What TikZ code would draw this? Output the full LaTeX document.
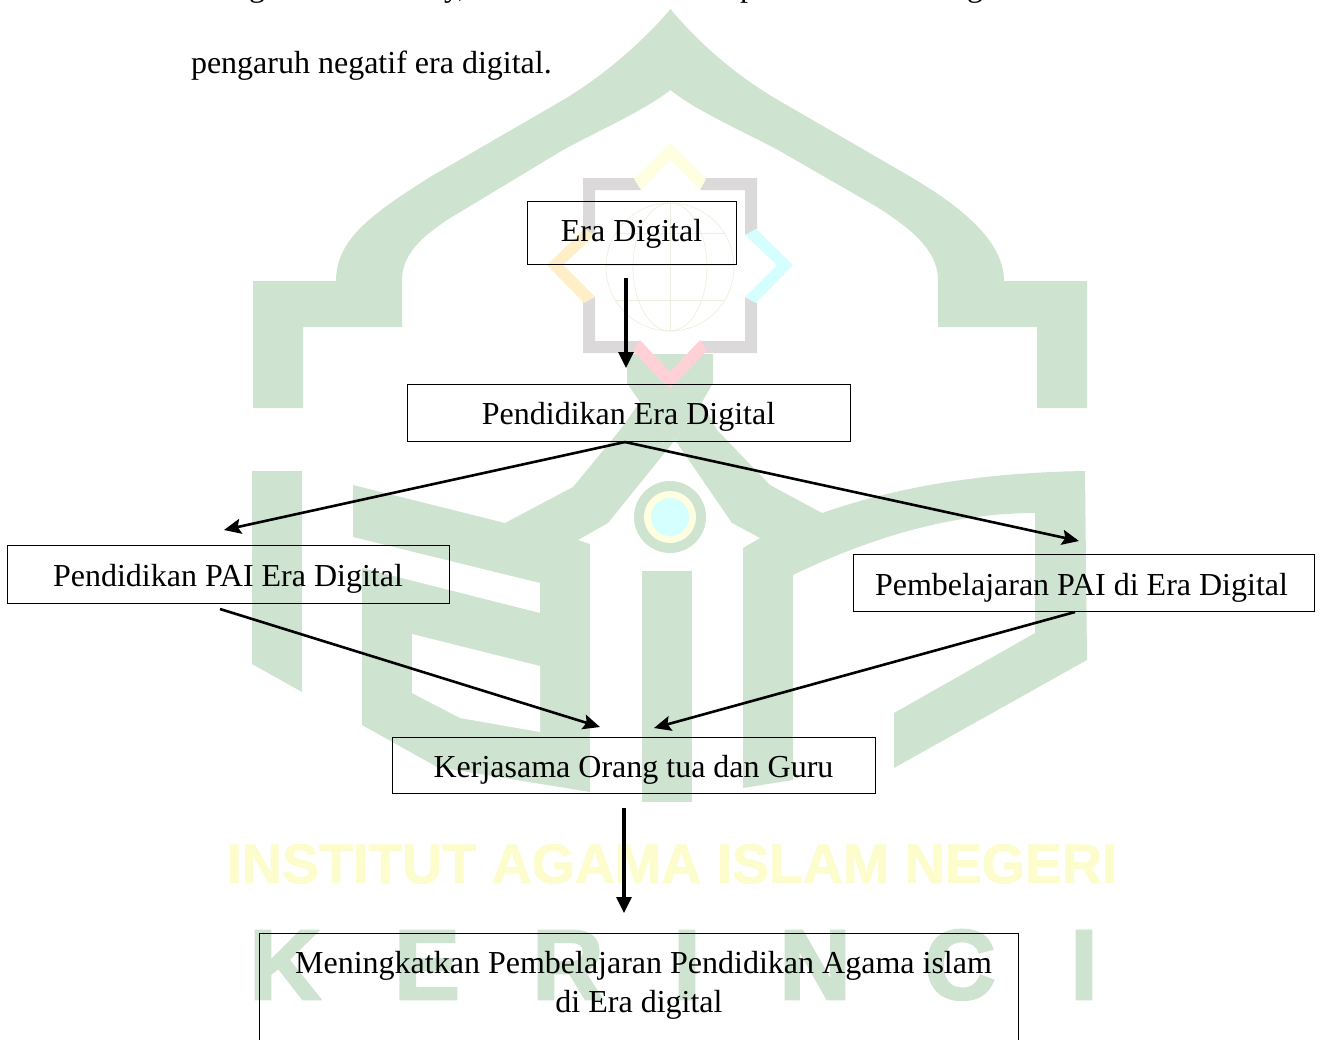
\documentclass[tikz,border=0pt]{standalone}
\usepackage{fontspec}
\setmainfont{Liberation Serif}
\newfontfamily\wmfont{Liberation Sans Bold}[FakeBold=2.5]
\newfontfamily\wmfonti{Liberation Sans Bold}[FakeBold=1.5]
\usetikzlibrary{arrows.meta}
\definecolor{wmgreen}{RGB}{207,228,208}
\definecolor{wmgrey}{RGB}{220,217,218}
\definecolor{wmyellow}{RGB}{254,254,224}
\definecolor{wmword}{RGB}{252,252,205}
\definecolor{wmorange}{RGB}{255,239,200}
\definecolor{wmcyan}{RGB}{213,255,255}
\definecolor{wmpink}{RGB}{255,208,213}
\definecolor{wmglobe}{RGB}{238,238,222}
\tikzset{
  txt/.style={inner sep=0pt,outer sep=0pt,font=\fontsize{32}{39}\selectfont,text=black},
  boxn/.style n args={3}{txt,draw=black,line width=1pt,minimum width=#1pt,minimum height=#2pt,text height=#3pt,text depth=7pt},
  varrow/.style={-{Triangle[length=16pt,width=15pt]},line width=3.2pt,black},
  darrow/.style={-{Stealth[length=17pt,width=15pt,inset=3pt]},line width=2.6pt,black},
  wmk/.style={inner sep=0pt,outer sep=0pt,anchor=base,font=\wmfont\fontsize{99}{99}\selectfont,text=wmgreen},
  globeline/.style={draw=wmglobe,line width=0.7pt}
}
\begin{document}
\begin{tikzpicture}[x=1pt,y=-1pt]
\clip (0,0) rectangle (1322,1039);
% watermark: arch
\fill[wmgreen] (670.5,9) .. controls (640,45) and (600,78) .. (563,100) -- (430,177)
  .. controls (370,215) and (336,240) .. (336,281) -- (253,281) -- (253,408) -- (303,408) -- (303,327)
  -- (402,327) -- (402,280) .. controls (402,250) and (430,232) .. (447,220) -- (563,150)
  .. controls (600,130) and (645,110) .. (670.5,90)
  .. controls (695,110) and (740,130) .. (778,150) -- (877,207)
  .. controls (910,228) and (938,250) .. (938,280) -- (938,327) -- (1037,327) -- (1037,408) -- (1087,408)
  -- (1087,281) -- (1004,281) .. controls (1004,245) and (970,212) .. (911,177) -- (778,100)
  .. controls (740,78) and (700,45) .. (670.5,9) -- cycle;
% watermark: stem and legs
\fill[wmgreen] (627,354) -- (713,354) -- (713,383) -- (702,402) -- (675,440) -- (640,402) -- (627,383) -- cycle;
\fill[wmgreen] (640,402) -- (620,430) -- (573,487) -- (505,523) -- (353,485) -- (353,537) -- (540,583) -- (540,613)
  -- (362,568) -- (362,725) -- (437,767) -- (590,792) -- (590,544) -- (578,540) -- (608,523) -- (675,440) -- cycle;
\fill[white] (412,634) -- (540,666) -- (540,732) -- (460,718) -- (412,693) -- cycle;
\fill[wmgreen] (702,402) -- (717,430) -- (770,485) -- (822,513) .. controls (880,493) and (960,473) .. (1085,471)
  -- (1087,660) -- (894,768) -- (894,713) -- (1035,633) -- (1035,513) .. controls (960,513) and (880,533) .. (793,575)
  -- (793,780) -- (743,788) -- (743,548) -- (760,538) -- (732,523) -- (675,440) -- cycle;
\fill[wmgreen] (252,471) -- (302,471) -- (302,692) -- (252,664) -- cycle;
\fill[wmgreen] (642,571) rectangle (692,802);
\fill[wmgreen] (670,517) circle[radius=36];
\fill[wmyellow] (670,517) circle[radius=26];
\fill[wmcyan] (670,517) circle[radius=19];
% watermark: star
\fill[wmgrey] (583,178) -- (636,178) -- (641,190) -- (595,190) -- (595,234) -- (583,240) -- cycle;
\fill[wmgrey] (705,178) -- (757,178) -- (757,229) -- (745,235) -- (745,190) -- (700,190) -- cycle;
\fill[wmgrey] (757,303) -- (757,353) -- (705,353) -- (700,341) -- (745,341) -- (745,297) -- cycle;
\fill[wmgrey] (583,302) -- (595,297) -- (595,341) -- (640,341) -- (635,353) -- (583,353) -- cycle;
\fill[wmyellow] (670,143) -- (706,179) -- (700,190) -- (670,160) -- (641,190) -- (634,179) -- cycle;
\fill[wmcyan] (793,265) -- (756,229) -- (745,235) -- (777,265) -- (745,297) -- (756,303) -- cycle;
\fill[wmorange] (547,265) -- (584,229) -- (595,235) -- (563,265) -- (595,297) -- (584,303) -- cycle;
\fill[wmpink] (670,389) -- (707,351) -- (700,340) -- (670,372) -- (640,340) -- (633,351) -- cycle;
% watermark: globe
\draw[globeline] (670,267) circle[radius=64];
\draw[globeline] (670,267) ellipse[x radius=37,y radius=64];
\draw[globeline] (670,203) -- (670,331);
\draw[globeline] (606,265) -- (734,265);
\draw[globeline] (615,233) -- (725,233);
\draw[globeline] (615,300) -- (725,300);
% watermark: words
\node[inner sep=0pt,outer sep=0pt,anchor=base,font=\wmfonti\fontsize{55.5}{56}\selectfont,text=wmword] (wminst) at (672,883) {INSTITUT AGAMA ISLAM NEGERI};
\node[wmk] (wmk1) at (285,999) {K};
\node[wmk] (wmk2) at (427,999) {E};
\node[wmk] (wmk3) at (568,999) {R};
\node[wmk] (wmk4) at (687,999) {I};
\node[wmk] (wmk5) at (815,999) {N};
\node[wmk] (wmk6) at (960,999) {C};
\node[wmk] (wmk7) at (1084,999) {I};
% text of the page
\node[txt,anchor=base] (cut1) at (257,-4) {g};
\node[txt,anchor=base] (cut2) at (455,-4) {y,};
\node[txt,anchor=base] (cut3) at (748,-4) {p};
\node[txt,anchor=base] (cut4) at (975,-4) {g};
\node[txt,anchor=base west] (para) at (191,73) {pengaruh negatif era digital.};
% boxes
\node[boxn={209}{63}{24}] (era) at (631.5,232.5) {Era Digital};
\node[boxn={443}{57}{30.6}] (pend) at (628.5,412.5) {Pendidikan Era Digital};
\node[boxn={442}{58}{31}] (pai) at (228,574) {Pendidikan PAI Era Digital};
\node[boxn={461}{57}{32}] (pemb) at (1083.5,582.5) {Pembelajaran PAI di Era Digital\hspace*{4pt}};
\node[boxn={483}{56}{31}] (kerja) at (633.5,765) {Kerjasama Orang tua dan Guru};
\node[txt,draw=black,line width=1pt,minimum width=759pt,minimum height=148pt,align=center] (mening) at (639,1007)
  {\hspace*{9pt}Meningkatkan Pembelajaran Pendidikan Agama islam\\ di Era digital\\ \strut};
% connectors
\draw[varrow] ([xshift=-5.5pt,yshift=-14pt]era.south) -- ([xshift=-2.5pt,yshift=16pt]pend.north);
\draw[darrow] ([xshift=-3.5pt,yshift=-1pt]pend.south) -- ([xshift=-4pt,yshift=15pt]pai.north);
\draw[darrow] ([xshift=-3.5pt,yshift=-1pt]pend.south) -- ([xshift=-4.5pt,yshift=13pt]pemb.north);
\draw[darrow] ([xshift=-8pt,yshift=-6pt]pai.south) -- ([xshift=-33.5pt,yshift=10pt]kerja.north);
\draw[darrow] ([xshift=-8.5pt,yshift=-1pt]pemb.south) -- ([xshift=20.5pt,yshift=9pt]kerja.north);
\draw[varrow] ([xshift=-9.5pt,yshift=-15pt]kerja.south) -- ([xshift=-15pt,yshift=20pt]mening.north);
\end{tikzpicture}
\end{document}
